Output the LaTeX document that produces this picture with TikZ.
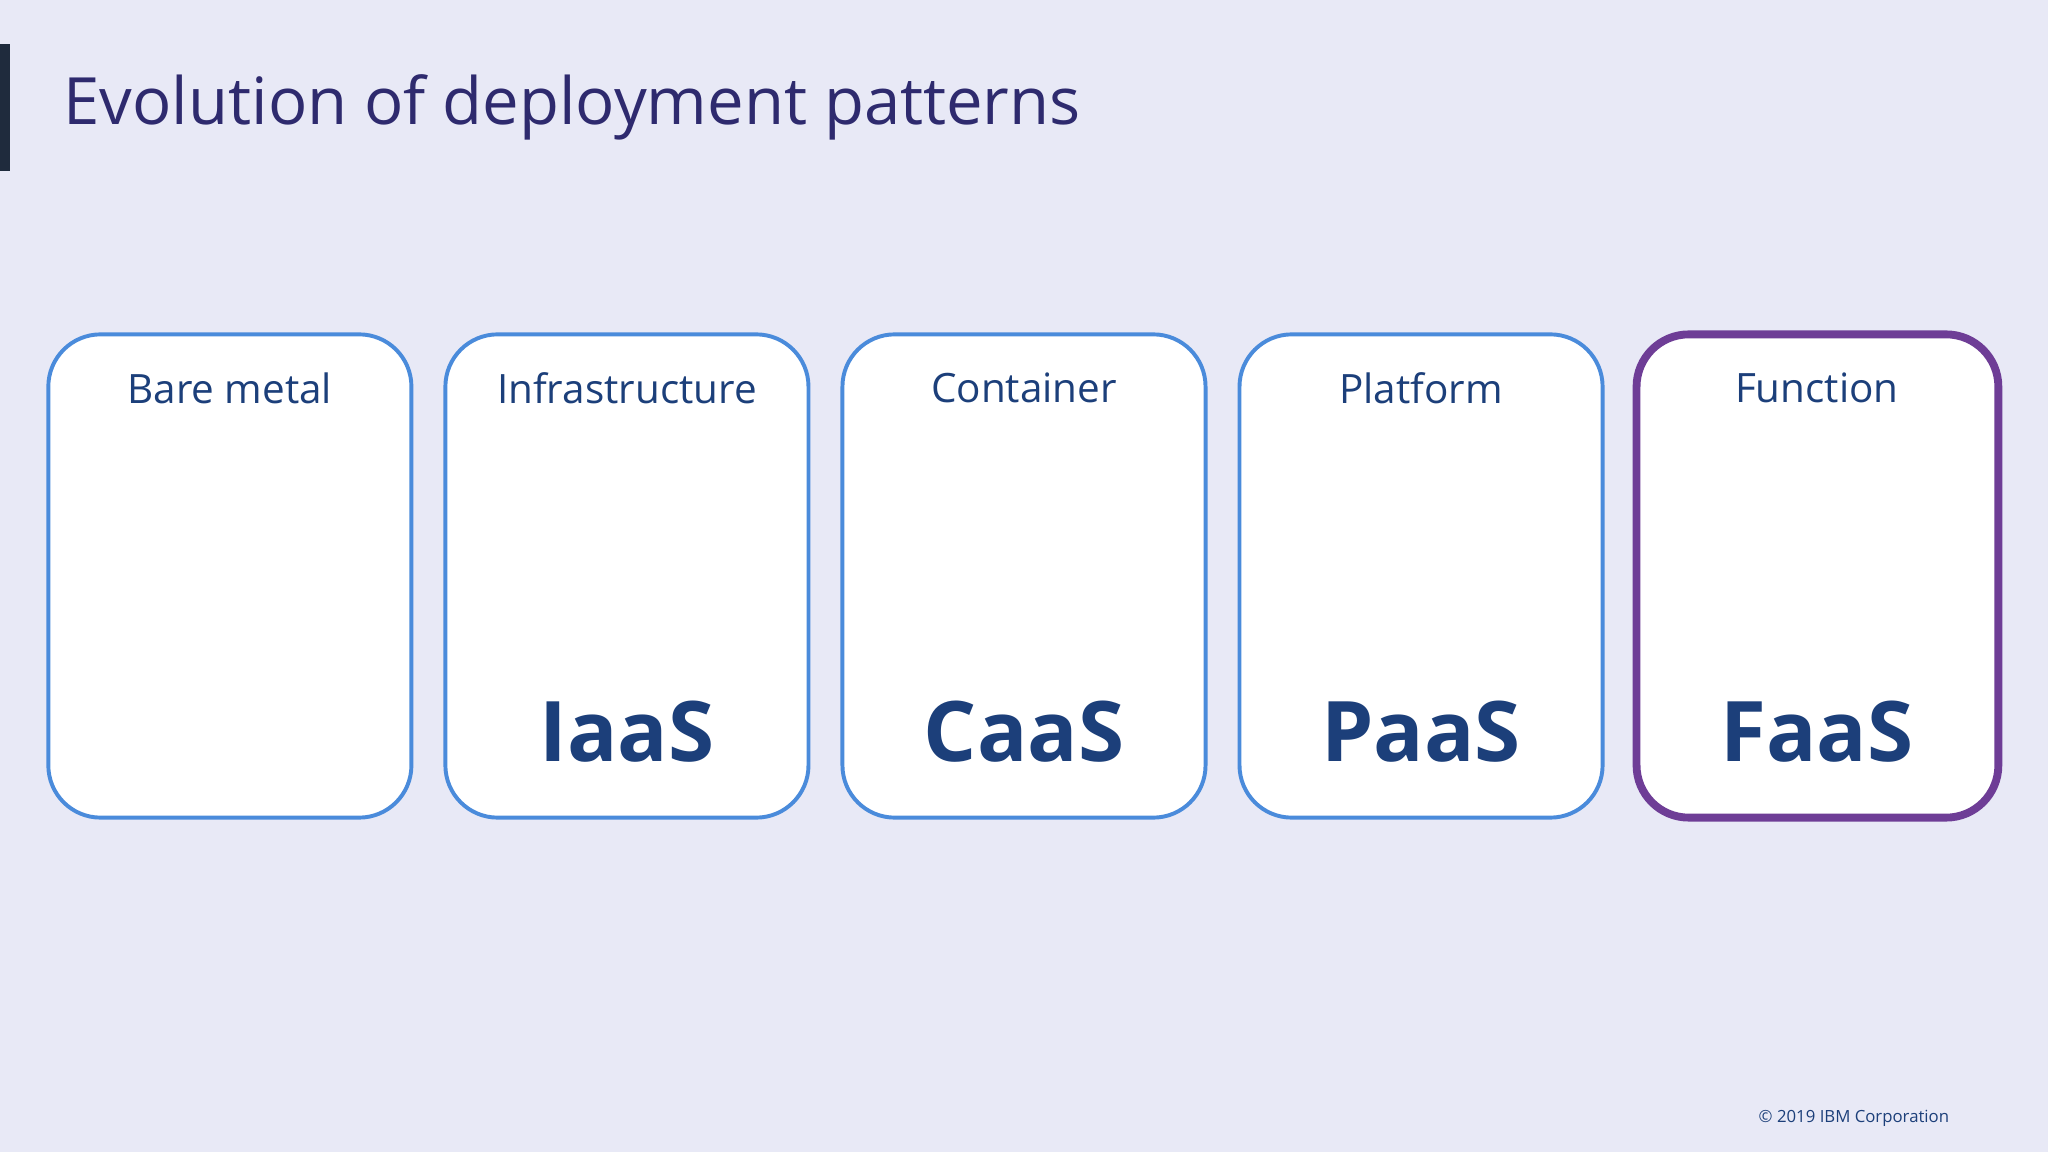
\documentclass[tikz,border=0pt]{standalone}
\usepackage{fontspec}
\setmainfont{Open Sans}
\definecolor{bg}{HTML}{E8E9F6}
\definecolor{ttl}{HTML}{2E2A6E}
\definecolor{bx}{HTML}{4A8BDB}
\definecolor{fx}{HTML}{6E3D96}
\definecolor{lbl}{HTML}{1C3F7A}
\definecolor{bar}{HTML}{1F2B3D}
\tikzset{
  card/.style={draw=bx,line width=0.03cm,fill=white,rounded corners=0.4cm},
  head/.style={text=lbl,font=\fontsize{8.8}{10}\selectfont},
  big/.style={text=lbl,font=\fontsize{18.2}{22}\selectfont\bfseries}
}
\begin{document}
\begin{tikzpicture}[x=0.01cm,y=-0.01cm]
\fill[bg] (0,0) rectangle (1568,882);
\useasboundingbox (0,0) rectangle (1568,882);
\fill[bar] (0,34) rectangle (8,131);
\node[anchor=west,inner sep=0,text=ttl,font=\fontsize{14.2}{17}\selectfont] (title) at (48,82) {Evolution of deployment patterns};
\foreach \x/\h/\b [count=\i] in {37/Bare metal/,341/Infrastructure/IaaS,645/Container/CaaS,949/Platform/PaaS} {
  \draw[card] (\x,256) rectangle ++(278,370);
  \node[head] (h\i) at (\x+139,297) {\h};
  \node[big] (b\i) at (\x+139,560) {\b};
}
\draw[card,draw=fx,line width=0.06cm] (1253,256) rectangle (1530,626);
\node[head] (h5) at (1391,297) {Function};
\node[big] (b5) at (1391,560) {FaaS};
\node[anchor=east,inner sep=0,text=lbl,font=\fontsize{3.65}{5}\selectfont] (copy) at (1493,856) {© 2019 IBM Corporation};
\end{tikzpicture}
\end{document}
